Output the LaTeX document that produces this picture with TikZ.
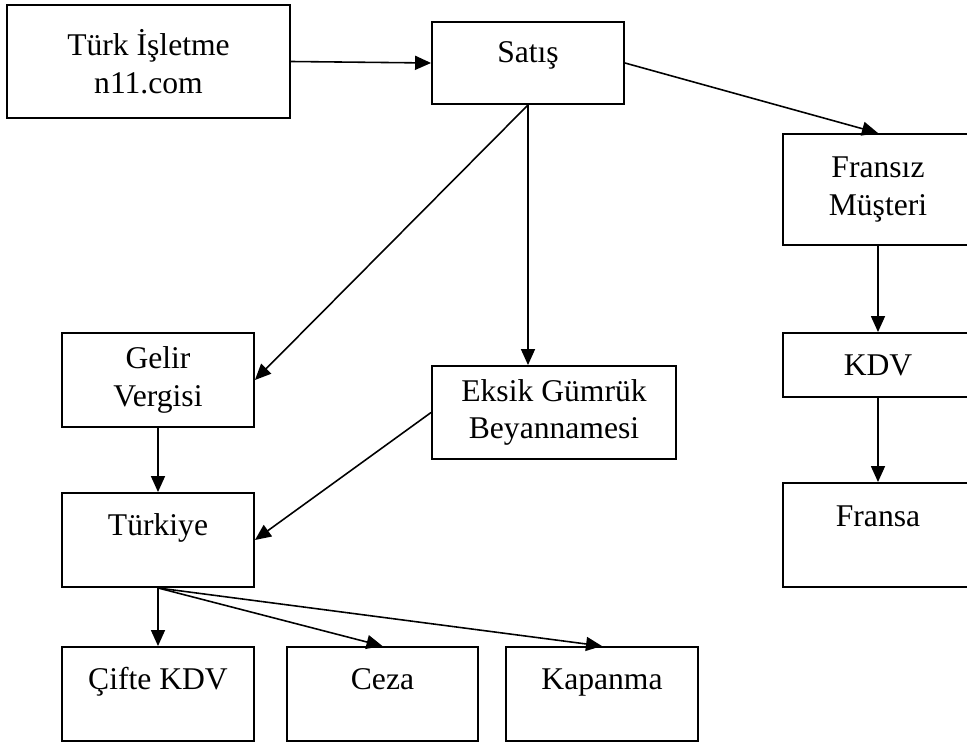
\documentclass[tikz,border=0pt]{standalone}
\usepackage{fontspec}
\setmainfont{Liberation Serif}
\usetikzlibrary{arrows.meta}

\begin{document}
\begin{tikzpicture}[x=0.02cm,y=-0.02cm,>={Triangle[length=3.2mm,width=2.8mm]},line width=0.9pt,
    box/.style={draw, line width=1.1pt, inner sep=0pt, align=center, minimum width=3.84cm,
      font=\fontsize{18}{21.5}\selectfont},
    topbox/.style={box, text height=0.84cm, text depth=1.04cm}]
  \useasboundingbox (0,0) rectangle (967,746);

  % upper row
  \node[box, minimum width=5.66cm, minimum height=2.26cm] (turk)  at (148.5,61.5) {Türk İşletme\\n11.com};
  \node[box, text height=0.82cm, text depth=0.82cm]       (satis) at (528,63)     {Satış};

  % right column
  \node[box, minimum width=3.8cm, minimum height=2.22cm] (fransiz) at (878,189.5) {Fransız\\Müşteri};
  \node[box, minimum width=3.8cm, minimum height=1.28cm] (kdv)     at (878,365)   {KDV};
  \node[topbox, minimum width=3.8cm, text height=0.86cm, text depth=1.22cm] (fransa) at (878,535) {Fransa};

  % middle
  \node[box, minimum height=1.88cm]                      (gelir) at (158,380)   {Gelir\\Vergisi};
  \node[box, minimum width=4.88cm, minimum height=1.86cm] (eksik) at (554,412.5) {Eksik Gümrük\\Beyannamesi};
  \node[topbox]                                          (turkiye) at (158,540) {Türkiye};

  % lower row
  \node[topbox]                      (cifte)   at (158,694)   {Çifte KDV};
  \node[topbox, minimum width=3.82cm] (ceza)    at (382.5,694) {Ceza};
  \node[topbox]                      (kapanma) at (602,694)   {Kapanma};

  \path[->]
        (turk.east)     edge (satis.west)
        (satis.east)    edge (fransiz.north)
        (satis.south)   edge (gelir.east)
        (satis.south)   edge (satis.south |- eksik.north)
        (fransiz.south) edge (kdv.north)
        (kdv.south)     edge (fransa.north)
        (gelir.south)   edge (turkiye.north)
        (eksik.west)    edge (turkiye.east)

        (turkiye.south) edge (cifte.north)
        (turkiye.south) edge (ceza.north)
        (turkiye.south) edge (kapanma.north);
\end{tikzpicture}
\end{document}
